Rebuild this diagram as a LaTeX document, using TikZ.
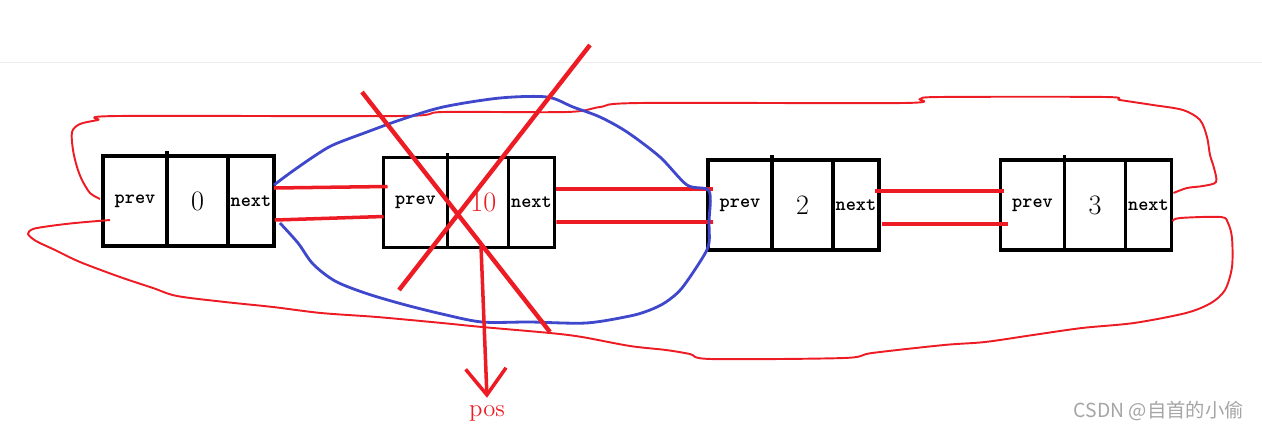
\documentclass[tikz,border=0pt]{standalone}
\usepackage{fontspec}
\newfontfamily\cjkfont{Noto Sans CJK SC}
\usetikzlibrary{positioning,arrows.meta}
\definecolor{penred}{RGB}{237,28,36}
\definecolor{penblue}{RGB}{63,72,204}
\definecolor{marktext}{RGB}{165,165,165}
\tikzset{cell/.style={draw, rectangle, line width=2.2pt, outer sep=0pt, inner sep=0pt, minimum height=1.8cm}}
\tikzset{ptrcell/.style={cell, font=\ttfamily\bfseries\fontsize{11}{13}\selectfont}}
\tikzset{prevcell/.style={ptrcell, minimum width=1.28cm}}
\tikzset{nextcell/.style={ptrcell, minimum width=0.92cm}}
\tikzset{datacell/.style={cell, minimum width=1.22cm, font=\fontsize{16}{18}\selectfont}}
\tikzset{link/.style={draw, penred, line width=2pt}}
\tikzset{backlink/.style={draw, penred, line width=1.1pt, line join=round}}
\tikzset{bluering/.style={draw, penblue, line width=1.6pt, line join=round}}
\tikzset{crossline/.style={draw, penred, line width=2.5pt}}
\tikzset{pointer/.style={draw, penred, line width=2pt, -{Straight Barb[length=15pt,width=23pt]}}}

\begin{document}
\begin{tikzpicture}[x=0.02cm, y=-0.02cm]
    \useasboundingbox (0,0) rectangle (1262,430);
    \draw[black!7] (0,62) -- (1262,62);

    % the four list nodes
    \node[prevcell] (prev0) at (135,201) {prev};
    \node[datacell, right=0pt of prev0] (data0) {0};
    \node[nextcell, right=0pt of data0] (next0) {next};

    \node[prevcell] (prev1) at (415.5,202.5) {prev};
    \node[datacell, right=0pt of prev1, text=penred] (data1) {\hspace{6pt}10};
    \node[nextcell, right=0pt of data1] (next1) {next};

    \node[prevcell] (prev2) at (740,205) {prev};
    \node[datacell, right=0pt of prev2] (data2) {2};
    \node[nextcell, right=0pt of data2] (next2) {next};

    \node[prevcell] (prev3) at (1032.5,205) {prev};
    \node[datacell, right=0pt of prev3] (data3) {3};
    \node[nextcell, right=0pt of data3] (next3) {next};

    \foreach \n in {0,...,3}
        \draw[line width=2pt] (data\n.north west) -- ++(0,-5);

    % links between neighbours
    \path [link] ([shift={(0,-13)}]next0.east) -- ([shift={(4,-16)}]prev1.west);
    \path [link] ([shift={(1,19)}]next0.east) -- ([shift={(0,14)}]prev1.west);
    \path [link] ([shift={(2,-13.5)}]next1.east) -- ([shift={(5,-16)}]prev2.west);
    \path [link] ([shift={(2,19.5)}]next1.east) -- ([shift={(5,17)}]prev2.west);
    \path [link] ([shift={(-4,-14)}]next2.east) -- ([shift={(3,-14)}]prev3.west);
    \path [link] ([shift={(3,19)}]next2.east) -- ([shift={(7,19)}]prev3.west);

    % links from tail back to head
    \coordinate (tailtop) at ([shift={(2,-12)}]next3.east);
    \coordinate (headtop) at ([shift={(-3,-2)}]prev0.west);
    \coordinate (tailbot) at ([shift={(1,16)}]next3.east);
    \coordinate (headbot) at ([shift={(7,19)}]prev0.west);
    \draw[backlink] plot[smooth, tension=0.5] coordinates {(tailtop) (1187,188) (1203,186) (1216,182)
        (1214,168) (1210,155) (1207,137) (1200,120) (1183,110) (1153,105) (1120,100) (1105,97)
        (940,97) (920,99) (903,103) (640,103) (600,107) (567,112) (443,112) (400,116) (118,116)
        (98,120) (80,124) (72,132) (73,150) (77,167) (82,180) (90,193) (headtop)};
    \draw[backlink] plot[smooth, tension=0.5] coordinates {(tailbot) (1180,218) (1221,217) (1228,223)
        (1232,238) (1232,267) (1225,290) (1211,303) (1186,313) (1134,323) (1082,328) (1033,335)
        (985,342) (944,345) (872,353) (844,358) (711,359) (690,354) (666,350) (630,346) (582,337)
        (550,333) (482,327) (442,323) (377,317) (321,313) (273,307) (225,302) (177,296) (153,288)
        (120,277) (80,262) (55,250) (36,241) (28,234) (33,229) (50,226) (75,223) (headbot)};

    % ring round the removed node
    \coordinate (ringstart) at ([shift={(0,-16)}]next0.east);
    \coordinate (ringend) at ([shift={(6,22)}]next0.east);
    \draw[bluering] plot[smooth, tension=0.5] coordinates {(ringstart) (290,173) (313,157) (333,145)
        (367,132) (400,120) (443,107) (500,98) (547,97) (573,107) (600,117) (627,132) (660,157)
        (687,185) (709,191) (709,222) (709,243) (703,257) (682,288) (666,302) (650,310) (630,316)
        (586,323) (530,322) (482,322) (442,314) (402,304) (365,293) (335,281) (313,264)
        (298,243) (ringend)};

    % the removed node is crossed out
    \draw[crossline] (362,92) -- (550,332);
    \draw[crossline] (590,45) -- (399,290);

    \node[text=penred, font=\fontsize{14}{16}\selectfont, inner sep=1pt] (pos) at (487,413) {pos};
    \draw[pointer] ([shift={(3,-2)}]data1.south) -- ([yshift=3pt]pos.north);

    \node[text=marktext, font=\cjkfont\fontsize{11}{13}\selectfont, anchor=east] (mark) at (1250,411) {CSDN @自首的小偷};
\end{tikzpicture}
\end{document}
